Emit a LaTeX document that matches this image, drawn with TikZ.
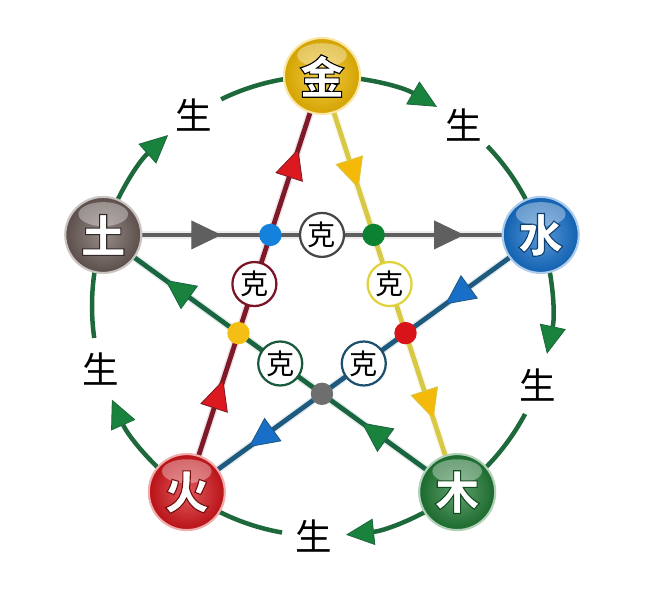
\documentclass[tikz,border=0pt]{standalone}
\usepackage{fontspec}
\newfontfamily\cjk{Noto Sans CJK SC}
\newfontfamily\cjkrand[FakeBold=2.4]{Noto Sans CJK SC}
\usetikzlibrary{arrows.meta,backgrounds,calc,decorations.markings}

\definecolor{jinball}{RGB}{240,185,0}
\definecolor{shuiball}{RGB}{20,110,200}
\definecolor{muball}{RGB}{30,120,50}
\definecolor{huoball}{RGB}{210,20,25}
\definecolor{tuball}{RGB}{105,90,85}
\definecolor{shengline}{RGB}{30,105,60}
\definecolor{shengtipc}{RGB}{25,130,60}
\definecolor{grayline}{RGB}{95,95,95}
\definecolor{graytip}{RGB}{95,95,95}
\definecolor{redline}{RGB}{125,25,40}
\definecolor{redtip}{RGB}{220,25,30}
\definecolor{yellowline}{RGB}{215,200,70}
\definecolor{yellowtip}{RGB}{245,185,10}
\definecolor{blueline}{RGB}{30,90,125}
\definecolor{bluetip}{RGB}{25,110,200}
\definecolor{greenline}{RGB}{25,100,65}
\definecolor{greentip}{RGB}{25,130,60}
\definecolor{dotblue}{RGB}{20,130,220}
\definecolor{dotgreen}{RGB}{10,130,50}
\definecolor{dotyellow}{RGB}{245,190,20}
\definecolor{dotred}{RGB}{215,20,25}
\definecolor{dotgray}{RGB}{110,110,110}
\definecolor{kegray}{RGB}{70,70,70}
\definecolor{kered}{RGB}{120,20,35}
\definecolor{keyellow}{RGB}{225,210,60}
\definecolor{kegreen}{RGB}{25,90,60}
\definecolor{keblue}{RGB}{30,80,110}

% white glyph, dark stroke round it
\newcommand{\randzeichen}[2]{{\color{white}\special{pdf:code #1 RG}#2}}

\begin{document}
\begin{tikzpicture}[x=0.025cm,y=0.025cm,
            ball/.style={circle, minimum size=1.9cm, inner sep=0pt, inner color=#1!70!white,
            outer color=#1!88!black, draw=#1!35, line width=1.5pt,
            path picture={\fill[white,opacity=0.35] ([yshift=0.52cm]path picture bounding box.center)
            ellipse [x radius=0.62cm, y radius=0.3cm];},
            font=\cjkrand\bfseries\fontsize{32}{32}\selectfont},
            sheng/.style={font=\cjk\fontsize{26}{26}\selectfont},
            ke/.style={circle, draw=#1, line width=1.6pt, fill=white, minimum size=1.1cm,
            inner sep=0pt, font=\cjk\fontsize{20}{20}\selectfont},
            jiao/.style={circle, fill=#1, minimum size=0.56cm, inner sep=0pt},
            shengarc/.style={draw=shengline, line width=3.2pt},
            shengtip/.style={-{Triangle[length=0.7cm,width=0.66cm,fill=shengtipc,color=shengline,line width=0.6pt]}},
            keline/.style 2 args={draw=#1, line width=3.4pt, preaction={draw=#1!12, line width=5.5pt},
            postaction={decorate}, decoration={markings,
            mark=at position 0.27 with {\arrow{Triangle[length=0.75cm,width=0.72cm,fill=#2,color=#1,line width=0.6pt]}},
            mark=at position 0.825 with {\arrow{Triangle[length=0.75cm,width=0.72cm,fill=#2,color=#1,line width=0.6pt]}}}}]
            \useasboundingbox (-322,-287) rectangle (331,306);

            \node[ball=jinball] (jin) at (90:230) {\randzeichen{0 0 0}{金}};
            \node[ball=shuiball] (shui) at (18:230) {\randzeichen{0.05 0.25 0.45}{水}};
            \node[ball=muball] (mu) at (-54:230) {\randzeichen{0.08 0.3 0.12}{木}};
            \node[ball=huoball] (huo) at (234:230) {\randzeichen{0.45 0.05 0.05}{火}};
            \node[ball=tuball] (tu) at (162:230) {\randzeichen{0.2 0.17 0.16}{土}};

            \node[sheng] (s1) at (124:230) {生};
            \node[sheng] (s2) at (52:230) {生};
            \node[sheng] (s3) at (-20:230) {生};
            \node[sheng] (s4) at (-92:230) {生};
            \node[sheng] (s5) at (196:230) {生};

            \node[jiao=dotblue] (d1) at ($(tu)!0.382!(shui)$) {};
            \node[jiao=dotgreen] (d2) at ($(tu)!0.618!(shui)$) {};
            \node[jiao=dotyellow] (d3) at ($(huo)!0.382!(jin)$) {};
            \node[jiao=dotred] (d4) at ($(jin)!0.618!(mu)$) {};
            \node[jiao=dotgray] (d5) at ($(shui)!0.618!(huo)$) {};

            \node[ke=kegray] (k1) at ($(tu)!0.5!(shui)$) {克};
            \node[ke=kered] (k2) at ($(huo)!0.5!(jin)$) {克};
            \node[ke=keyellow] (k3) at ($(jin)!0.5!(mu)$) {克};
            \node[ke=kegreen] (k4) at ($(mu)!0.5!(tu)$) {克};
            \node[ke=keblue] (k5) at ($(shui)!0.5!(huo)$) {克};

            \begin{pgfonlayer}{background}
            \draw[shengarc,shengtip] (tu.center) arc[start angle=162,end angle=132,radius=230];
            \draw[shengarc] (jin.center) arc[start angle=90,end angle=116,radius=230];
            \draw[shengarc,shengtip] (jin.center) arc[start angle=90,end angle=60,radius=230];
            \draw[shengarc] (shui.center) arc[start angle=18,end angle=44,radius=230];
            \draw[shengarc,shengtip] (shui.center) arc[start angle=18,end angle=-12,radius=230];
            \draw[shengarc] (mu.center) arc[start angle=-54,end angle=-28,radius=230];
            \draw[shengarc,shengtip] (mu.center) arc[start angle=-54,end angle=-84,radius=230];
            \draw[shengarc] (huo.center) arc[start angle=234,end angle=260,radius=230];
            \draw[shengarc,shengtip] (huo.center) arc[start angle=234,end angle=204,radius=230];
            \draw[shengarc] (tu.center) arc[start angle=162,end angle=188,radius=230];

            \draw[keline={grayline}{graytip}] (tu.center) -- (shui.center);
            \draw[keline={redline}{redtip}] (huo.center) -- (jin.center);
            \draw[keline={yellowline}{yellowtip}] (jin.center) -- (mu.center);
            \draw[keline={blueline}{bluetip}] (shui.center) -- (huo.center);
            \draw[keline={greenline}{greentip}] (mu.center) -- (tu.center);
            \end{pgfonlayer}

\end{tikzpicture}
\end{document}
